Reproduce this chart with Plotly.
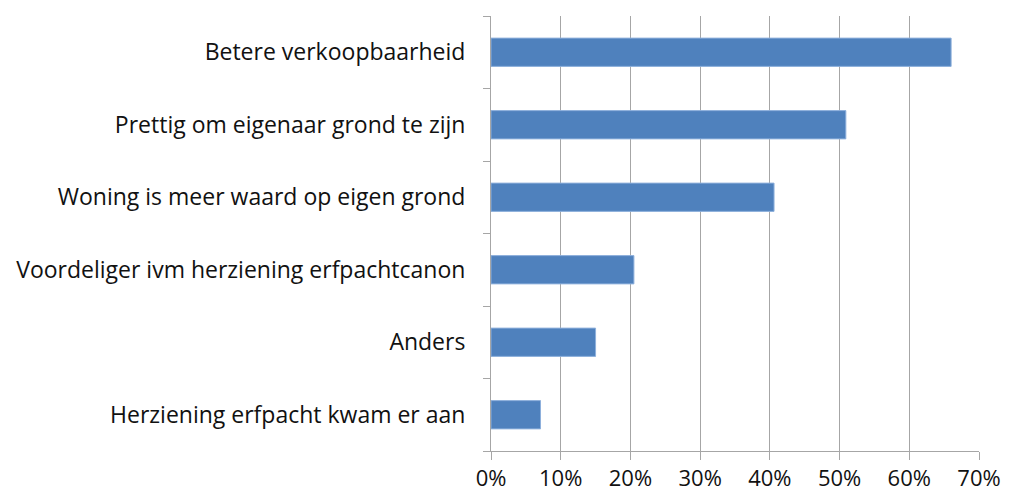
import plotly.graph_objects as go

categories = [
    "Betere verkoopbaarheid",
    "Prettig om eigenaar grond te zijn",
    "Woning is meer waard op eigen grond",
    "Voordeliger ivm herziening erfpachtcanon",
    "Anders",
    "Herziening erfpacht kwam er aan",
]
values = [0.66, 0.509, 0.406, 0.205, 0.150, 0.071]
x_ticks = [0, 0.1, 0.2, 0.3, 0.4, 0.5, 0.6, 0.7]
x_tick_labels = ["0%", "10%", "20%", "30%", "40%", "50%", "60%", "70%"]

fig = go.Figure(
    go.Bar(
        y=categories,
        x=values,
        orientation="h",
        width=0.39,
        marker=dict(color="#4F81BD", line=dict(color="#8EB0DC", width=1)),
        hoverinfo="skip",
    )
)

font_family = "Open Sans, Noto Sans, DejaVu Sans, sans-serif"

fig.update_layout(
    width=1024,
    height=495,
    margin=dict(l=483, r=53, t=8, b=52),
    paper_bgcolor="white",
    plot_bgcolor="white",
    showlegend=False,
    font=dict(family=font_family, size=23, color="#111111"),
)

fig.update_xaxes(
    range=[0, 0.7],
    tickvals=x_ticks,
    ticktext=x_tick_labels,
    showgrid=True,
    gridcolor="#A6A6A6",
    gridwidth=1,
    showline=True,
    linecolor="#A6A6A6",
    linewidth=1,
    ticks="outside",
    ticklen=8,
    tickcolor="#A6A6A6",
    zeroline=False,
    tickfont=dict(size=22),
    ticklabelstandoff=0,
    automargin=False,
)

fig.update_yaxes(
    categoryorder="array",
    categoryarray=categories[::-1],
    showgrid=False,
    showline=True,
    linecolor="#A6A6A6",
    linewidth=1,
    ticks="outside",
    ticklen=7,
    tickcolor="#A6A6A6",
    tickson="boundaries",
    tickfont=dict(size=23),
    ticklabelstandoff=20,
    automargin=False,
)

fig.write_html("out.html")
